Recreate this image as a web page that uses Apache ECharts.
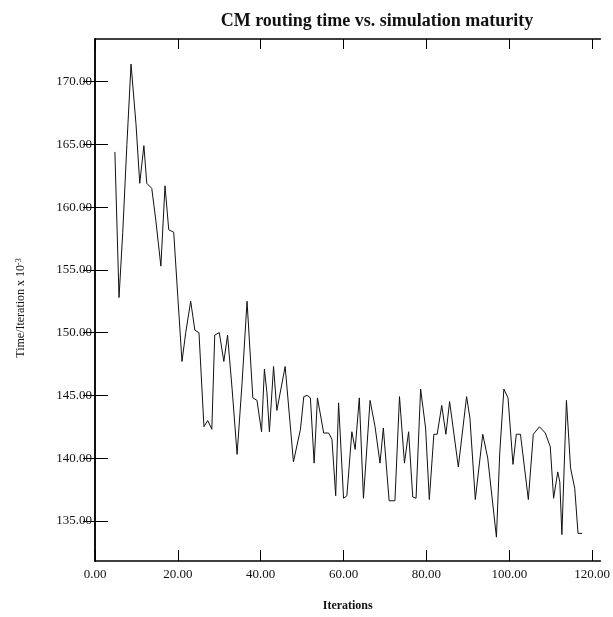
<html>
<head>
    <meta charset="UTF-8">
    <title>CM routing time</title>
    <script src="https://cdn.jsdelivr.net/npm/echarts@6/dist/echarts.min.js"></script>
</head>

<body style="margin:0;background:#fff;">
    <div id="container" style="width: 613px;height:617px;"></div>
</body>

<script>
    // values
    var iterations = [4.8, 5.8, 6.7, 7.7, 8.7, 9.9, 10.8, 11.8, 12.5, 13.7,
        14.7, 15.9, 16.9, 17.8, 19.0, 20.0, 21.0, 21.9, 23.1, 24.1,
        25.1, 26.3, 27.2, 28.2, 28.9, 30.0, 31.1, 32.0, 33.1, 34.3,
        35.5, 36.7, 38.1, 39.1, 40.2, 40.9, 41.5, 42.1, 43.1, 43.9,
        45.9, 47.9, 49.6, 50.4, 51.2, 52.0, 52.9, 53.7, 55.2, 56.4,
        57.2, 58.1, 58.8, 60.0, 60.8, 62.0, 62.8, 63.8, 64.8, 66.4,
        67.6, 68.8, 69.6, 71.0, 72.4, 73.5, 74.7, 75.7, 76.7, 77.5,
        78.6, 79.8, 80.7, 81.8, 82.6, 83.7, 84.7, 85.6, 87.7, 89.7,
        90.5, 91.8, 93.6, 94.8, 96.9, 97.7, 98.7, 99.7, 100.9, 101.7,
        102.7, 104.6, 105.8, 107.3, 108.7, 109.9, 110.7, 111.7, 112.2, 112.7,
        113.8, 114.8, 115.8, 116.6, 117.6];
    var timePerIter = [164.4, 152.8, 158.0, 165.0, 171.4, 166.6, 161.9, 164.9, 161.9, 161.5,
        158.9, 155.3, 161.7, 158.2, 158.0, 152.8, 147.7, 150.0, 152.5, 150.2,
        150.0, 142.5, 143.0, 142.3, 149.8, 150.0, 147.7, 149.8, 145.5, 140.3,
        146.0, 152.5, 144.8, 144.6, 142.1, 147.1, 145.2, 142.1, 147.3, 143.8,
        147.3, 139.7, 142.3, 144.9, 145.0, 144.8, 139.6, 144.8, 142.0, 142.0,
        141.5, 137.0, 144.4, 136.8, 137.0, 142.1, 140.7, 144.8, 136.8, 144.6,
        142.5, 139.6, 142.4, 136.6, 136.6, 144.9, 139.6, 142.1, 136.9, 136.8,
        145.5, 142.4, 136.7, 141.9, 141.9, 144.2, 141.9, 144.5, 139.3, 144.9,
        143.2, 136.7, 141.9, 140.0, 133.7, 140.4, 145.5, 144.8, 139.5, 141.9,
        141.9, 136.7, 141.9, 142.5, 142.0, 140.9, 136.8, 138.9, 138.1, 133.9,
        144.6, 139.2, 137.6, 134.0, 134.0];

    // tick positions
    var xTicks = [0, 20, 40, 60, 80, 100, 120];
    var yTicks = [135, 140, 145, 150, 155, 160, 165, 170];

    var xMin = 0, xMax = 122, yMin = 131.8, yMax = 173.4;
    var serif = 'Liberation Serif';

    var points = [];
    for (var i = 0; i < iterations.length; i++) {
        points.push([iterations[i], timePerIter[i]]);
    }

    function fmt(v) { return Number(v).toFixed(2); }

    var mycharts = echarts.init(document.getElementById('container'));
    var option = {
        backgroundColor: '#fff',
        animation: false,
        title: {
            text: 'CM routing time vs. simulation maturity',
            left: 372,
            top: 7,
            textAlign: 'center',
            textStyle: { fontFamily: serif, fontWeight: 'bold', fontSize: 18, color: '#111' }
        },
        grid: { left: 95, right: 10, top: 39, bottom: 51 },
        xAxis: [{
            type: 'value', position: 'bottom',
            min: xMin, max: xMax,
            name: 'Iterations', nameLocation: 'middle', nameGap: 39,
            nameTextStyle: { fontFamily: serif, fontWeight: 'bold', fontSize: 12, color: '#111' },
            axisLine: { lineStyle: { color: '#000', width: 1.5 } },
            axisTick: { inside: true, length: 11, customValues: xTicks, lineStyle: { color: '#000' } },
            axisLabel: { formatter: fmt, customValues: xTicks, margin: 7,
                fontFamily: serif, fontSize: 13, color: '#111' },
            splitLine: { show: false }
        }, {
            type: 'value', position: 'top',
            min: xMin, max: xMax,
            axisLine: { lineStyle: { color: '#000', width: 1.5 } },
            axisTick: { inside: true, length: 10, customValues: xTicks, lineStyle: { color: '#000' } },
            axisLabel: { show: false },
            splitLine: { show: false }
        }],
        yAxis: [{
            type: 'value', position: 'left',
            min: yMin, max: yMax,
            name: 'Time/Iteration x 10{sup|-3}', nameLocation: 'middle', nameGap: 68, nameRotate: 90,
            nameTextStyle: { fontFamily: serif, fontSize: 12, color: '#111', padding: [0, 16, 0, 0],
                rich: { sup: { fontFamily: serif, fontSize: 8, color: '#111', verticalAlign: 'top', lineHeight: 12 } } },
            axisLine: { lineStyle: { color: '#000', width: 1.5 } },
            axisTick: { inside: true, length: 13, customValues: yTicks, lineStyle: { color: '#000' } },
            axisLabel: { formatter: fmt, customValues: yTicks, margin: 3,
                fontFamily: serif, fontSize: 13, color: '#111' },
            splitLine: { show: false }
        }, {
            type: 'value', position: 'right',
            min: yMin, max: yMax,
            axisLine: { lineStyle: { color: '#000', width: 1.5 } },
            axisTick: { inside: true, length: 12, customValues: yTicks, lineStyle: { color: '#000' } },
            axisLabel: { show: false },
            splitLine: { show: false }
        }],
        series: [{
            name: 'CM routing time',
            type: 'line',
            xAxisIndex: 0,
            yAxisIndex: 0,
            data: points,
            showSymbol: false,
            lineStyle: { color: '#111', width: 1 }
        }]
    };
    mycharts.setOption(option);
</script>
</html>
